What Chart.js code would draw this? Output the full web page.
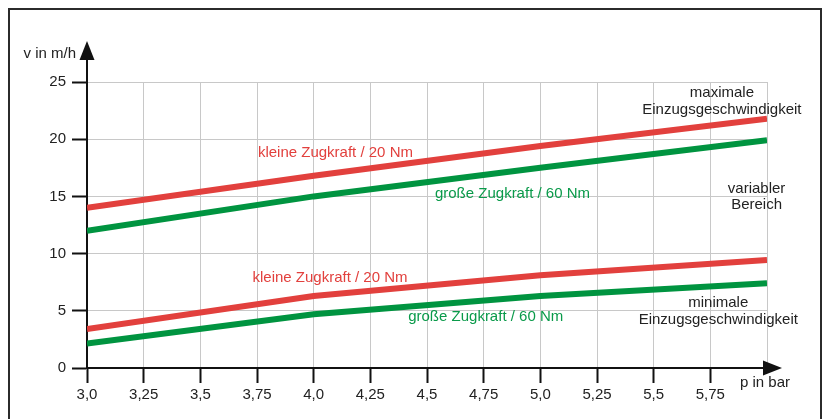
<!DOCTYPE html>
<html>
<head>
<meta charset="utf-8">
<script src="https://cdn.jsdelivr.net/npm/chart.js@4"></script>
<style>
  html, body { margin: 0; padding: 0; background: #fff; }
  #wrap { position: relative; width: 822px; height: 419px; overflow: hidden; }
  #frame { position: absolute; left: 8px; top: 8px; width: 810px; height: 430px;
           border: 2px solid #2b2b2b; border-bottom: none; }
  canvas { position: absolute; left: 0; top: 0; }
</style>
</head>
<body>
<div id="wrap">
  <div id="frame"></div>
  <canvas id="chart" width="822" height="419"></canvas>
</div>
<script>
// pressure (bar) at which the curves were read
const pressure = [3, 4, 5, 6];

// speed in m/h
const maxSmallForce = [14, 16.8, 19.4, 21.8];   // kleine Zugkraft / 20 Nm (max)
const maxLargeForce = [12, 15, 17.5, 19.9];     // große Zugkraft / 60 Nm (max)
const minSmallForce = [3.4, 6.3, 8.1, 9.45];    // kleine Zugkraft / 20 Nm (min)
const minLargeForce = [2.15, 4.7, 6.3, 7.4];    // große Zugkraft / 60 Nm (min)

// axis ticks
const xTickValues = [3, 3.25, 3.5, 3.75, 4, 4.25, 4.5, 4.75, 5, 5.25, 5.5, 5.75, 6];
const xTickLabels = ['3,0', '3,25', '3,5', '3,75', '4,0', '4,25', '4,5', '4,75', '5,0', '5,25', '5,5', '5,75', ''];
const yTickValues = [0, 5, 10, 15, 20, 25];

const RED = '#e2403d';
const GREEN = '#009440';
const FONT = '"Liberation Sans", Arial, sans-serif';

// text labels placed in data coordinates: [text, x, y, color]
const notes = [
  ['kleine Zugkraft / 20 Nm', 4.096, 18.9, RED],
  ['große Zugkraft / 60 Nm', 4.877, 15.36, '#0a9a4a'],
  ['kleine Zugkraft / 20 Nm', 4.072, 8.04, RED],
  ['große Zugkraft / 60 Nm', 4.759, 4.57, '#0a9a4a'],
  ['maximale', 5.801, 24.15, '#222'],
  ['Einzugsgeschwindigkeit', 5.801, 22.7, '#222'],
  ['variabler', 5.954, 15.8, '#222'],
  ['Bereich', 5.954, 14.4, '#222'],
  ['minimale', 5.785, 5.8, '#222'],
  ['Einzugsgeschwindigkeit', 5.785, 4.34, '#222']
];

function toPoints(ys) {
  return pressure.map((x, i) => ({ x, y: ys[i] }));
}

function lineSet(label, ys, color) {
  return {
    label, data: toPoints(ys), borderColor: color, backgroundColor: color,
    borderWidth: 6, pointRadius: 0, tension: 0, fill: false, borderCapStyle: 'butt'
  };
}

// arrows, axis titles and curve labels
const decorations = {
  id: 'decorations',
  afterDraw(chart) {
    const ctx = chart.ctx;
    const xs = chart.scales.x, ys = chart.scales.y;
    const left = xs.left, bottom = ys.bottom, top = ys.top, right = xs.right;
    ctx.save();
    ctx.fillStyle = '#111';
    ctx.strokeStyle = '#111';
    ctx.lineWidth = 2;
    // y axis extension + arrow
    ctx.beginPath();
    ctx.moveTo(left, top);
    ctx.lineTo(left, top - 24);
    ctx.stroke();
    ctx.beginPath();
    ctx.moveTo(left, top - 41);
    ctx.lineTo(left - 7.5, top - 22);
    ctx.lineTo(left + 7.5, top - 22);
    ctx.closePath();
    ctx.fill();
    // x axis arrow
    ctx.beginPath();
    ctx.moveTo(right + 15, bottom);
    ctx.lineTo(right - 4, bottom - 7.5);
    ctx.lineTo(right - 4, bottom + 7.5);
    ctx.closePath();
    ctx.fill();

    ctx.font = '15px ' + FONT;
    ctx.textBaseline = 'middle';
    ctx.fillStyle = '#222';
    ctx.textAlign = 'right';
    ctx.fillText('v in m/h', left - 11, top - 28);
    ctx.textAlign = 'center';
    ctx.fillText('p in bar', right - 2, bottom + 15);

    notes.forEach(([text, x, y, color]) => {
      ctx.fillStyle = color;
      ctx.fillText(text, xs.getPixelForValue(x), ys.getPixelForValue(y) + 1.5);
    });
    ctx.restore();
  }
};

new Chart(document.getElementById('chart'), {
  type: 'line',
  data: {
    datasets: [
      lineSet('kleine Zugkraft / 20 Nm (max)', maxSmallForce, RED),
      lineSet('große Zugkraft / 60 Nm (max)', maxLargeForce, GREEN),
      lineSet('kleine Zugkraft / 20 Nm (min)', minSmallForce, RED),
      lineSet('große Zugkraft / 60 Nm (min)', minLargeForce, GREEN)
    ]
  },
  options: {
    responsive: false,
    animation: false,
    devicePixelRatio: 1,
    layout: { padding: { left: 0, top: 82, right: 55, bottom: 0 } },
    plugins: { legend: { display: false }, tooltip: { enabled: false } },
    scales: {
      x: {
        type: 'linear', min: 3, max: 6,
        afterBuildTicks: s => { s.ticks = xTickValues.map(v => ({ value: v })); },
        afterFit: s => { s.height = 51; },
        ticks: {
          autoSkip: false, maxRotation: 0, padding: 3,
          color: '#222', font: { size: 15, family: FONT },
          callback: (v, i) => xTickLabels[i]
        },
        grid: {
          color: '#c8c8c8', lineWidth: 1, drawTicks: true, tickLength: 15, tickWidth: 2,
          tickColor: c => (c.tick && c.tick.value === 6 ? 'rgba(0,0,0,0)' : '#111')
        },
        border: { display: true, color: '#111', width: 2 }
      },
      y: {
        type: 'linear', min: 0, max: 25,
        afterBuildTicks: s => { s.ticks = yTickValues.map(v => ({ value: v })); },
        afterFit: s => { s.width = 87; },
        ticks: {
          padding: 6, color: '#222', font: { size: 15, family: FONT }
        },
        grid: {
          color: '#c8c8c8', lineWidth: 1, drawTicks: true, tickLength: 15, tickWidth: 2,
          tickColor: '#111'
        },
        border: { display: true, color: '#111', width: 2 }
      }
    }
  },
  plugins: [decorations]
});
</script>
</body>
</html>
